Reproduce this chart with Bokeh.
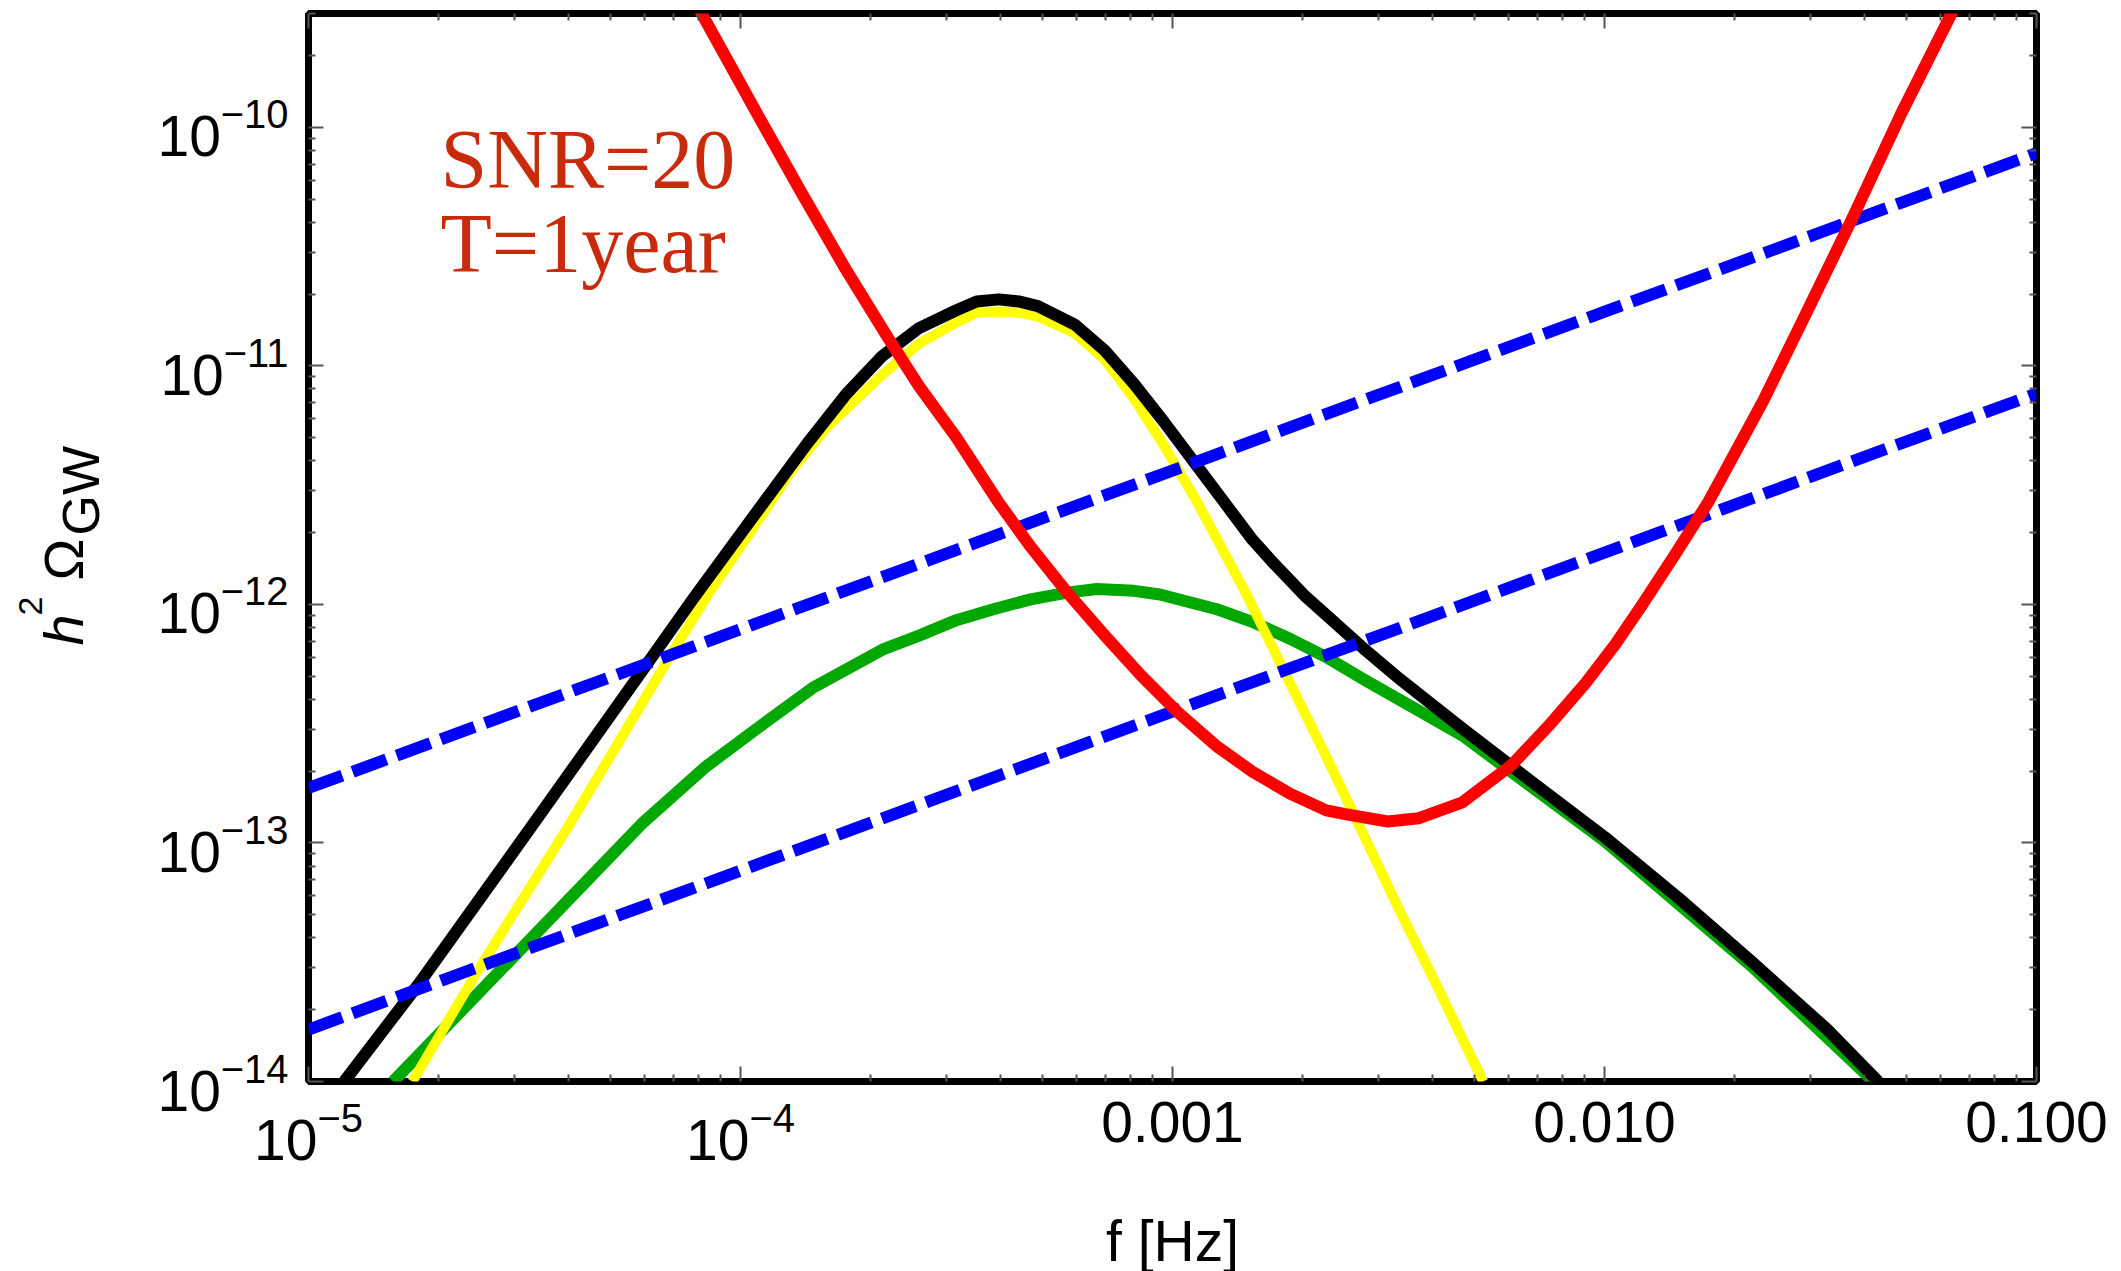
import numpy as np
from bokeh.plotting import figure
from bokeh.layouts import row
from bokeh.models import FixedTicker, LogAxis, Label
from bokeh.core.properties import value
from bokeh.embed import file_html
from bokeh.resources import INLINE

# ---------------------------------------------------------------------------
# Spectra h^2 Omega_GW(f); frequencies in Hz
# ---------------------------------------------------------------------------
f_total = [1.21e-5, 1.81e-5, 3.27e-5, 5.90e-5, 7.78e-5, 1.07e-4, 1.43e-4, 1.75e-4,
           2.13e-4, 2.59e-4, 3.16e-4, 3.52e-4, 3.96e-4, 4.43e-4, 4.88e-4, 5.94e-4,
           6.97e-4, 8.15e-4, 9.53e-4, 1.12e-3, 1.31e-3, 1.53e-3, 1.69e-3, 2.02e-3,
           2.27e-3, 2.77e-3, 3.37e-3, 4.69e-3, 6.75e-3, 1.00e-2, 1.48e-2, 2.20e-2,
           3.27e-2, 4.30e-2]
omega_total = [1.00e-14, 2.60e-14, 1.16e-13, 5.22e-13, 1.06e-12, 2.33e-12, 4.75e-12, 7.55e-12,
               1.10e-11, 1.44e-11, 1.71e-11, 1.86e-11, 1.90e-11, 1.86e-11, 1.78e-11, 1.49e-11,
               1.16e-11, 8.40e-12, 5.86e-12, 3.97e-12, 2.72e-12, 1.87e-12, 1.53e-12, 1.09e-12,
               9.02e-13, 6.53e-13, 4.84e-13, 3.02e-13, 1.82e-13, 1.06e-13, 5.90e-14, 3.16e-14,
               1.66e-14, 1.00e-14]

f_yellow = [1.74e-5, 2.43e-5, 3.98e-5, 7.18e-5, 8.41e-5, 1.07e-4, 1.30e-4, 1.58e-4,
            2.13e-4, 2.59e-4, 3.16e-4, 3.52e-4, 3.96e-4, 4.43e-4, 4.88e-4, 5.94e-4,
            6.97e-4, 8.15e-4, 9.53e-4, 1.14e-3, 1.48e-3, 1.87e-3, 2.27e-3, 2.77e-3,
            3.37e-3, 4.10e-3, 4.69e-3, 5.24e-3]
omega_yellow = [1.00e-14, 2.79e-14, 1.16e-13, 6.93e-13, 1.10e-12, 2.09e-12, 3.55e-12, 5.50e-12,
                9.18e-12, 1.24e-11, 1.52e-11, 1.67e-11, 1.69e-11, 1.67e-11, 1.61e-11, 1.37e-11,
                1.06e-11, 7.28e-12, 4.67e-12, 2.69e-12, 1.11e-12, 4.68e-13, 2.30e-13, 1.08e-13,
                5.12e-14, 2.51e-14, 1.51e-14, 1.00e-14]

f_green = [1.57e-5, 3.01e-5, 5.90e-5, 8.32e-5, 1.17e-4, 1.47e-4, 2.13e-4, 2.59e-4,
           3.16e-4, 3.85e-4, 4.69e-4, 5.71e-4, 6.68e-4, 8.15e-4, 9.35e-4, 1.26e-3,
           1.53e-3, 1.87e-3, 2.27e-3, 2.77e-3, 4.69e-3, 1.00e-2, 2.20e-2, 4.20e-2]
omega_green = [1.00e-14, 3.39e-14, 1.20e-13, 2.09e-13, 3.31e-13, 4.47e-13, 6.46e-13, 7.40e-13,
               8.59e-13, 9.55e-13, 1.05e-12, 1.12e-12, 1.16e-12, 1.14e-12, 1.10e-12, 9.57e-13,
               8.45e-13, 7.18e-13, 6.01e-13, 4.85e-13, 2.82e-13, 1.02e-13, 3.02e-14, 1.00e-14]

# Sensitivity curve (SNR = 20, one year of observation)
f_sens = [7.94e-5, 1.07e-4, 1.38e-4, 1.75e-4, 2.19e-4, 2.59e-4, 3.16e-4, 3.95e-4,
          4.69e-4, 5.71e-4, 6.97e-4, 8.47e-4, 1.03e-3, 1.26e-3, 1.53e-3, 1.87e-3,
          2.27e-3, 2.51e-3, 3.15e-3, 3.72e-3, 4.69e-3, 6.11e-3, 7.43e-3, 9.06e-3,
          1.06e-2, 1.22e-2, 1.46e-2, 1.74e-2, 2.33e-2, 2.91e-2, 3.77e-2, 4.86e-2,
          6.31e-2, 6.61e-2]
omega_sens = [3.24e-10, 1.22e-10, 5.37e-11, 2.55e-11, 1.32e-11, 8.22e-12, 5.01e-12, 2.69e-12,
              1.75e-12, 1.12e-12, 7.41e-13, 5.02e-13, 3.52e-13, 2.56e-13, 1.99e-13, 1.61e-13,
              1.37e-13, 1.32e-13, 1.23e-13, 1.27e-13, 1.48e-13, 2.13e-13, 3.10e-13, 4.70e-13,
              6.81e-13, 9.91e-13, 1.63e-12, 2.69e-12, 7.13e-12, 1.62e-11, 4.25e-11, 1.14e-10,
              2.92e-10, 3.47e-10]

# Power-law reference lines
f_pl = [1e-5, 1e-1]
omega_pl_upper = [1.70e-13, 7.80e-11]
omega_pl_lower = [1.65e-14, 7.65e-12]

# Axes
F_MIN, F_MAX = 1e-5, 0.1
OMEGA_MIN, OMEGA_MAX = 1e-14, 3e-10
x_major = [1e-5, 1e-4, 1e-3, 1e-2, 1e-1]
x_tick_text = {1e-3: "0.001", 1e-2: "0.010", 1e-1: "0.100"}
y_major = [1e-14, 1e-13, 1e-12, 1e-11, 1e-10]

TITLE_W = 110            # strip holding the vertical axis title
FRAME_W, FRAME_H = 1728, 1068
BORDER_TOP, BORDER_BOTTOM = 13, 190
FONT = "Liberation Sans"
TICK_GREY = "#555555"


def minor_list(lo_exp, hi_exp):
    return [m * 10.0 ** e for e in range(lo_exp, hi_exp + 1) for m in range(2, 10)]


def at_x(px):
    """frequency at px pixels right of the frame's left edge"""
    lo, hi = np.log10(F_MIN), np.log10(F_MAX)
    return 10 ** (lo + px / FRAME_W * (hi - lo))


def at_y(py):
    """Omega at py pixels above the frame's bottom edge"""
    lo, hi = np.log10(OMEGA_MIN), np.log10(OMEGA_MAX)
    return 10 ** (lo + py / FRAME_H * (hi - lo))


p = figure(x_axis_type="log", y_axis_type="log",
           x_range=(F_MIN, F_MAX), y_range=(OMEGA_MIN, OMEGA_MAX),
           frame_width=FRAME_W, frame_height=FRAME_H,
           min_border_left=308 - TITLE_W, min_border_right=85,
           min_border_top=BORDER_TOP, min_border_bottom=BORDER_BOTTOM,
           output_backend="svg", toolbar_location=None,
           background_fill_color="white", border_fill_color="white")
p.grid.visible = False
p.outline_line_color = "black"
p.outline_line_width = 7

x_ticker = FixedTicker(ticks=x_major, minor_ticks=minor_list(-5, -2))
y_ticker = FixedTicker(ticks=y_major, minor_ticks=minor_list(-14, -10))


def style_axis(ax, ticker, labelled):
    ax.ticker = ticker
    ax.axis_line_color = None
    ax.major_tick_in = 15
    ax.major_tick_out = 0
    ax.minor_tick_in = 7
    ax.minor_tick_out = 0
    ax.major_tick_line_color = TICK_GREY
    ax.major_tick_line_width = 2
    ax.minor_tick_line_color = TICK_GREY
    ax.minor_tick_line_width = 2
    ax.major_label_text_font = FONT
    if labelled:
        ax.major_label_text_font_size = "57px"
        ax.major_label_text_color = "black"
        ax.major_label_standoff = 20
    else:
        # mirrored ticks only
        ax.major_label_text_font_size = "1px"
        ax.major_label_text_alpha = 0
        ax.major_label_standoff = 0


style_axis(p.xaxis[0], x_ticker, True)
style_axis(p.yaxis[0], y_ticker, True)
overrides = dict(x_tick_text)
overrides.update({str(k): v for k, v in x_tick_text.items()})
p.xaxis[0].major_label_overrides = overrides
p.xaxis[0].axis_label = "f [Hz]"
p.xaxis[0].axis_label_text_font = FONT
p.xaxis[0].axis_label_text_font_size = "57px"
p.xaxis[0].axis_label_text_font_style = "normal"
p.xaxis[0].axis_label_text_color = "black"
p.xaxis[0].axis_label_standoff = 46

top_axis = LogAxis()
style_axis(top_axis, x_ticker, False)
p.add_layout(top_axis, "above")
right_axis = LogAxis()
style_axis(right_axis, y_ticker, False)
p.add_layout(right_axis, "right")

# Curves
p.line(f_green, omega_green, line_color="#00A800", line_width=12, line_join="round")
p.line(f_yellow, omega_yellow, line_color="#FFFF00", line_width=10, line_join="round")
p.line(f_total, omega_total, line_color="black", line_width=12, line_join="round")
p.line(f_pl, omega_pl_upper, line_color="#0000FF", line_width=12, line_dash="36 11")
p.line(f_pl, omega_pl_lower, line_color="#0000FF", line_width=12, line_dash="36 11")
p.line(f_sens, omega_sens, line_color="#FF0000", line_width=12, line_join="round")

# Annotation inside the frame (anchored on the text's middle line)
for txt, py in [("SNR=20", 922), ("T=1year", 838)]:
    p.add_layout(Label(x=at_x(132), y=at_y(py), text=txt,
                       text_font="Liberation Serif", text_font_size="84px",
                       text_color="#C92A0A", text_align="left",
                       text_baseline="middle"))

# Vertical axis title  h^2 Omega_GW, set in its own strip left of the plot.
# The strip shares the plot's vertical frame; its y values are pixel rows
# counted from the top of the page.
t = figure(frame_width=TITLE_W, frame_height=FRAME_H,
           x_range=(0, TITLE_W), y_range=(BORDER_TOP + FRAME_H, BORDER_TOP),
           min_border_left=0, min_border_right=0,
           min_border_top=BORDER_TOP, min_border_bottom=BORDER_BOTTOM,
           x_axis_location=None, y_axis_location=None,
           output_backend="svg", toolbar_location=None,
           background_fill_color="white", border_fill_color="white")
t.grid.visible = False
t.outline_line_color = None
title_parts = [
    # text, middle-line x, start row, size, style
    ("h", 63, 645, "56px", "italic"),
    ("2", 30, 615, "34px", "normal"),
    ("\u03a9", 63, 580, "56px", "normal"),
    ("GW", 80, 535, "52px", "normal"),
]
for txt, mx, sy, size, style in title_parts:
    t.text(x=[mx], y=[sy], text=[txt], angle=np.pi / 2,
           text_font=value(FONT), text_font_size=value(size),
           text_font_style=style, text_color="black",
           text_align="left", text_baseline="middle")

layout = row(t, p, spacing=0)
open("out.html", "w").write(file_html(layout, INLINE))
